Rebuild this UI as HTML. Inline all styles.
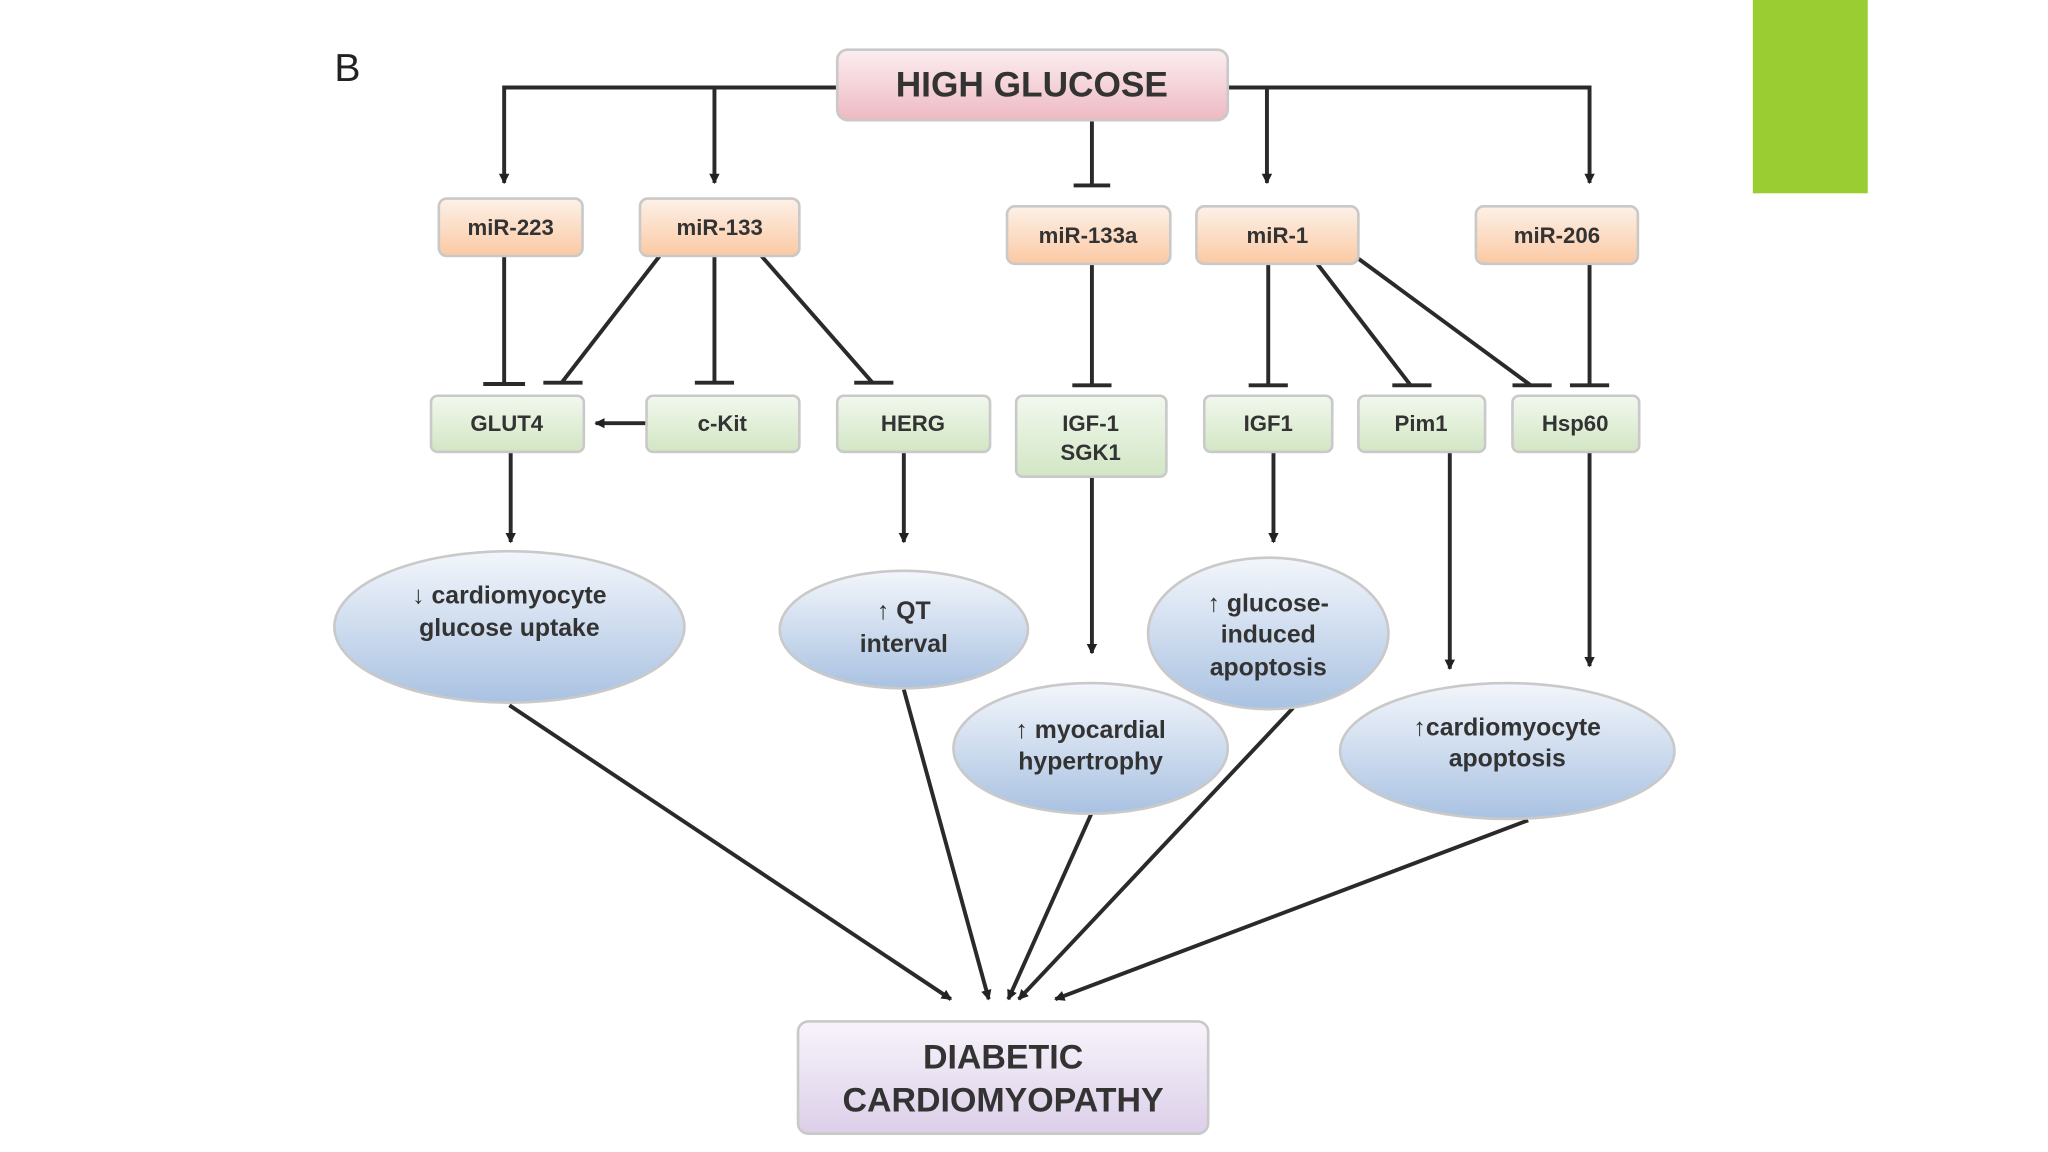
<!DOCTYPE html>
<html><head><meta charset="utf-8"><style>html,body{margin:0;padding:0;background:#fff;width:2048px;height:1152px;overflow:hidden}</style></head>
<body>
<svg width="2048" height="1152" viewBox="0 0 1568 882" xmlns="http://www.w3.org/2000/svg" font-family="Liberation Sans, sans-serif" font-weight="bold">
<defs>
<linearGradient id="pk" x1="0" y1="0" x2="0" y2="1"><stop offset="0" stop-color="#fbeef0"/><stop offset="1" stop-color="#eeb9c3"/></linearGradient>
<linearGradient id="or" x1="0" y1="0" x2="0" y2="1"><stop offset="0" stop-color="#fdf1e8"/><stop offset="1" stop-color="#fbc9a3"/></linearGradient>
<linearGradient id="gr" x1="0" y1="0" x2="0" y2="1"><stop offset="0" stop-color="#f2f8ee"/><stop offset="1" stop-color="#d2e6c4"/></linearGradient>
<linearGradient id="bl" x1="0" y1="0" x2="0" y2="1"><stop offset="0" stop-color="#f3f6fb"/><stop offset="1" stop-color="#a9c2e2"/></linearGradient>
<linearGradient id="pu" x1="0" y1="0" x2="0" y2="1"><stop offset="0" stop-color="#f8f4fb"/><stop offset="1" stop-color="#dccfe9"/></linearGradient>
<marker id="a" markerWidth="8" markerHeight="8" refX="7" refY="4" orient="auto" markerUnits="userSpaceOnUse"><path d="M0,0 L8,4 L0,8 z" fill="#222"/></marker>
</defs>
<rect x="1342" y="0" width="88" height="148" fill="#9acd32"/>
<text x="256" y="62" font-size="30" font-weight="normal" fill="#222">B</text>
<g stroke="#2a2a2a" stroke-width="3" fill="none">
<path d="M641,67 H386 V140" marker-end="url(#a)"/>
<path d="M547,67 V140" marker-end="url(#a)"/>
<path d="M940,67 H1217 V140" marker-end="url(#a)"/>
<path d="M970,67 V140" marker-end="url(#a)"/>
<path d="M836,92 V142 M822,142 H850"/>
<path d="M386,196 V294 M370,294 H402"/>
<path d="M505,196 L430,293 M416,293 H446"/>
<path d="M547,196 V293 M532,293 H562"/>
<path d="M583,196 L668,293 M654,293 H684"/>
<path d="M836,202 V295 M821,295 H851"/>
<path d="M971,202 V295 M956,295 H986"/>
<path d="M1007,200 L1080,295 M1066,295 H1096"/>
<path d="M1040,198 L1172,295 M1158,295 H1188"/>
<path d="M1217,202 V295 M1202,295 H1232"/>
<path d="M495,324 H456" marker-end="url(#a)"/>
<path d="M391,346 V415" marker-end="url(#a)"/>
<path d="M692,346 V415" marker-end="url(#a)"/>
<path d="M836,365 V500" marker-end="url(#a)"/>
<path d="M975,346 V415" marker-end="url(#a)"/>
<path d="M1110,346 V512" marker-end="url(#a)"/>
<path d="M1217,346 V510" marker-end="url(#a)"/>
<path d="M390,540 L728,765" marker-end="url(#a)"/>
<path d="M692,528 L757,765" marker-end="url(#a)"/>
<path d="M836,622 L772,765" marker-end="url(#a)"/>
<path d="M990,542 L780,765" marker-end="url(#a)"/>
<path d="M1170,628 L808,765" marker-end="url(#a)"/>
</g>
<g stroke="#c9c9c9" stroke-width="2">
<rect x="641" y="38" width="299" height="54" rx="8" fill="url(#pk)"/>
<rect x="336" y="152" width="110" height="44" rx="6" fill="url(#or)"/>
<rect x="490" y="152" width="122" height="44" rx="6" fill="url(#or)"/>
<rect x="771" y="158" width="125" height="44" rx="6" fill="url(#or)"/>
<rect x="916" y="158" width="124" height="44" rx="6" fill="url(#or)"/>
<rect x="1130" y="158" width="124" height="44" rx="6" fill="url(#or)"/>
<rect x="330" y="303" width="117" height="43" rx="5" fill="url(#gr)"/>
<rect x="495" y="303" width="117" height="43" rx="5" fill="url(#gr)"/>
<rect x="641" y="303" width="117" height="43" rx="5" fill="url(#gr)"/>
<rect x="778" y="303" width="115" height="62" rx="5" fill="url(#gr)"/>
<rect x="922" y="303" width="98" height="43" rx="5" fill="url(#gr)"/>
<rect x="1040" y="303" width="97" height="43" rx="5" fill="url(#gr)"/>
<rect x="1158" y="303" width="97" height="43" rx="5" fill="url(#gr)"/>
<ellipse cx="390" cy="480" rx="134" ry="58" fill="url(#bl)"/>
<ellipse cx="692" cy="482" rx="95" ry="45" fill="url(#bl)"/>
<ellipse cx="971" cy="485" rx="92" ry="58" fill="url(#bl)"/>
<ellipse cx="835" cy="573" rx="105" ry="50" fill="url(#bl)"/>
<ellipse cx="1154" cy="575" rx="128" ry="52" fill="url(#bl)"/>
<rect x="611" y="782" width="314" height="86" rx="8" fill="url(#pu)"/>
</g>
<g fill="#333" text-anchor="middle">
<text x="790" y="74" font-size="27">HIGH GLUCOSE</text>
<g font-size="17">
<text x="391" y="180">miR-223</text>
<text x="551" y="180">miR-133</text>
<text x="833" y="186">miR-133a</text>
<text x="978" y="186">miR-1</text>
<text x="1192" y="186">miR-206</text>
<text x="388" y="330">GLUT4</text>
<text x="553" y="330">c-Kit</text>
<text x="699" y="330">HERG</text>
<text x="835" y="330">IGF-1</text>
<text x="835" y="352">SGK1</text>
<text x="971" y="330">IGF1</text>
<text x="1088" y="330">Pim1</text>
<text x="1206" y="330">Hsp60</text>
</g>
<g font-size="19">
<text x="390" y="462">↓ cardiomyocyte</text>
<text x="390" y="487">glucose uptake</text>
<text x="692" y="474">↑ QT</text>
<text x="692" y="499">interval</text>
<text x="971" y="468">↑ glucose-</text>
<text x="971" y="492">induced</text>
<text x="971" y="517">apoptosis</text>
<text x="835" y="565">↑ myocardial</text>
<text x="835" y="589">hypertrophy</text>
<text x="1154" y="563">↑cardiomyocyte</text>
<text x="1154" y="587">apoptosis</text>
</g>
<text x="768" y="818" font-size="26">DIABETIC</text>
<text x="768" y="851" font-size="26">CARDIOMYOPATHY</text>
</g>
</svg>
</body></html>
